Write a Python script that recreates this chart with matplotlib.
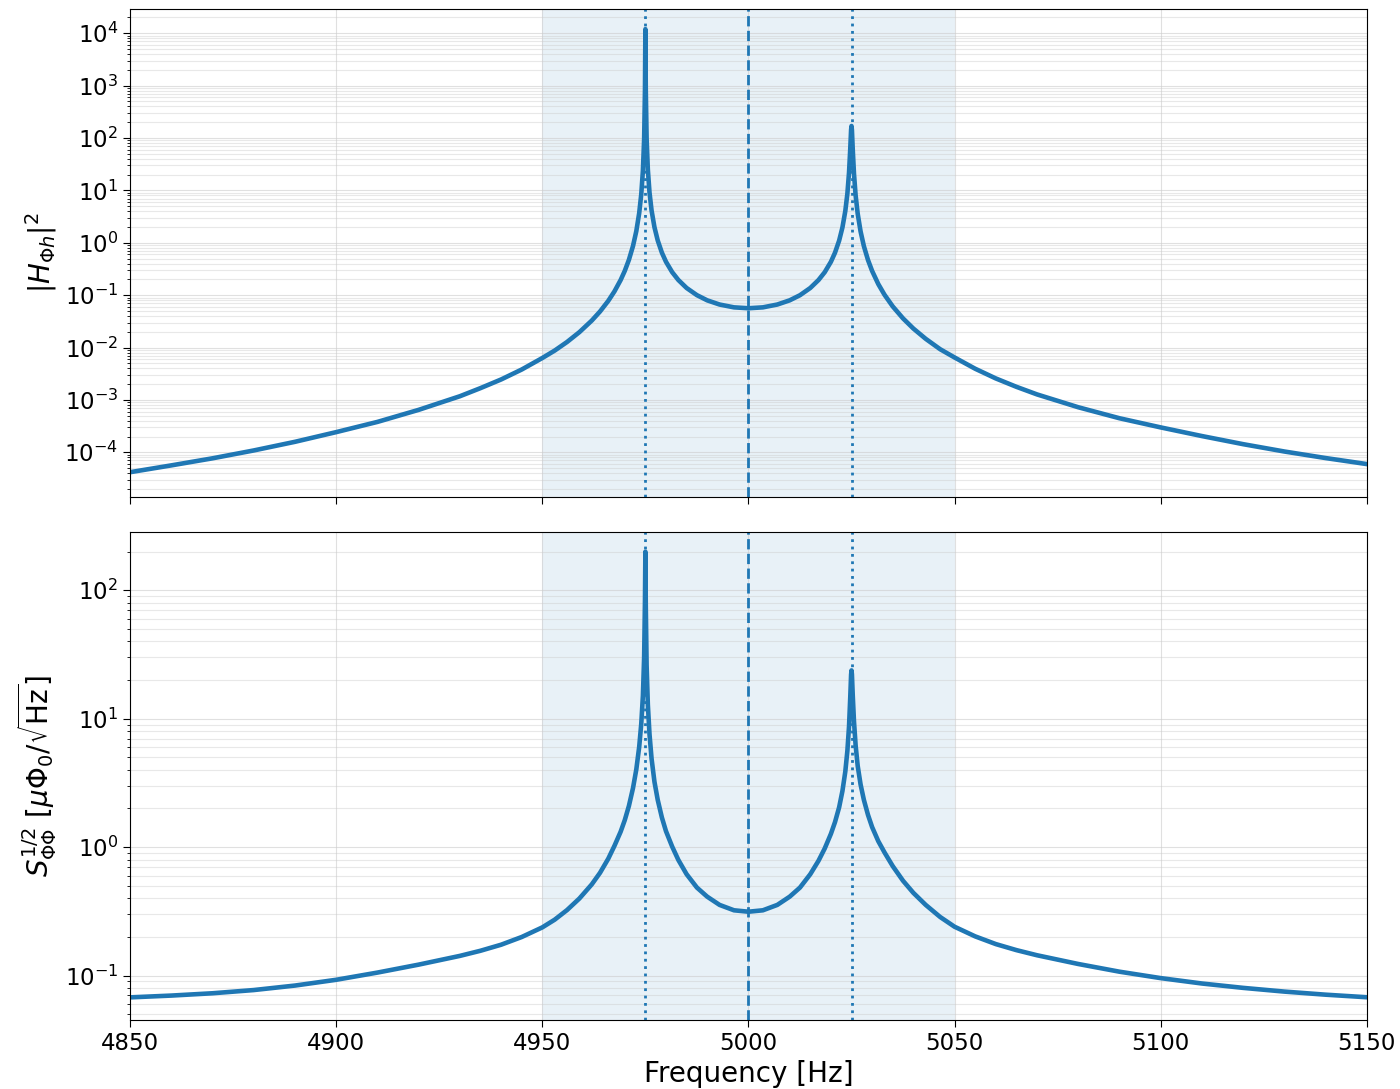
import numpy as np
import matplotlib
matplotlib.use("Agg")
import matplotlib.pyplot as plt

# frequency samples [Hz] (denser near the two resonances)
freq = [4850, 4860, 4870, 4880, 4890, 4900, 4910, 4920, 4930, 4935,
        4940, 4945, 4950, 4953, 4956, 4959, 4962, 4964, 4966, 4967.5,
        4969, 4970, 4971, 4972, 4972.8, 4973.5, 4974, 4974.4, 4974.7, 4974.9,
        4975, 4975.1, 4975.3, 4975.6, 4976, 4976.5, 4977.2, 4978, 4979, 4980,
        4981.5, 4983, 4985, 4987.5, 4990, 4993, 4996.5, 5000, 5003.5, 5007,
        5010, 5012.5, 5015, 5017, 5018.5, 5020, 5021, 5022, 5022.8, 5023.5,
        5024, 5024.4, 5024.7, 5024.9, 5025, 5025.1, 5025.3, 5025.6, 5026, 5026.5,
        5027.2, 5028, 5029, 5030, 5031.5, 5033, 5035, 5037.5, 5040, 5043,
        5046.5, 5050, 5055, 5060, 5065, 5070, 5080, 5090, 5100, 5110,
        5120, 5130, 5140, 5150]

# log10 |H_Phi h|^2
h2_log10 = [-4.38, -4.25, -4.115, -3.965, -3.80, -3.615, -3.42, -3.19, -2.93, -2.775,
            -2.61, -2.42, -2.20, -2.058, -1.894, -1.706, -1.485, -1.312, -1.109, -0.928,
            -0.711, -0.537, -0.327, -0.061, 0.222, 0.566, 0.926, 1.376, 1.981, 2.913,
            4.079, 2.916, 1.991, 1.397, 0.961, 0.618, 0.298, 0.043, -0.188, -0.363,
            -0.561, -0.711, -0.863, -1.000, -1.099, -1.179, -1.233, -1.250, -1.233, -1.179,
            -1.099, -1.001, -0.863, -0.711, -0.562, -0.364, -0.189, 0.041, 0.293, 0.608,
            0.939, 1.340, 1.798, 2.155, 2.230, 2.152, 1.787, 1.319, 0.905, 0.556,
            0.217, -0.064, -0.329, -0.538, -0.789, -0.992, -1.215, -1.444, -1.637, -1.834,
            -2.032, -2.19, -2.405, -2.59, -2.75, -2.895, -3.14, -3.35, -3.525, -3.69,
            -3.845, -3.985, -4.11, -4.225]

# log10 S_PhiPhi^(1/2) [uPhi0/sqrt(Hz)]
s_log10 = [-1.170, -1.156, -1.138, -1.113, -1.078, -1.033, -0.977, -0.915, -0.847, -0.807,
           -0.760, -0.700, -0.625, -0.565, -0.490, -0.400, -0.290, -0.200, -0.090, 0.010,
           0.120, 0.210, 0.320, 0.460, 0.605, 0.780, 0.960, 1.178, 1.480, 1.916,
           2.300, 1.878, 1.416, 1.109, 0.880, 0.689, 0.509, 0.367, 0.231, 0.124,
           0.004, -0.100, -0.211, -0.315, -0.386, -0.450, -0.492, -0.503, -0.492, -0.450,
           -0.386, -0.315, -0.211, -0.106, -0.011, 0.103, 0.195, 0.310, 0.437, 0.589,
           0.750, 0.940, 1.169, 1.343, 1.376, 1.346, 1.184, 0.979, 0.792, 0.633,
           0.488, 0.368, 0.251, 0.156, 0.046, -0.041, -0.148, -0.262, -0.356, -0.450,
           -0.544, -0.620, -0.695, -0.755, -0.802, -0.842, -0.910, -0.970, -1.020, -1.062,
           -1.096, -1.125, -1.149, -1.169]

f_modes = [4975, 5025]
f_center = 5000
band = (4950, 5050)
xticks = [4850, 4900, 4950, 5000, 5050, 5100, 5150]

color = "#1f77b4"
h2 = 10 ** np.array(h2_log10)
s = 10 ** np.array(s_log10)

fig = plt.figure(figsize=(14, 10.89), dpi=100)
ax1 = fig.add_axes([0.0929, 0.5439, 0.8834, 0.4478])
ax2 = fig.add_axes([0.0929, 0.0634, 0.8834, 0.4484], sharex=ax1)

for ax, y in [(ax1, h2), (ax2, s)]:
    ax.axvspan(band[0], band[1], color=color, alpha=0.1, lw=0)
    for fm in f_modes:
        ax.axvline(fm, color=color, ls=":", lw=2)
    ax.axvline(f_center, color=color, ls="--", lw=2)
    ax.plot(freq, y, color=color, lw=3.3, solid_joinstyle="round")
    ax.set_yscale("log")
    ax.grid(True, which="major", color="#cccccc", alpha=0.6, lw=0.8)
    ax.grid(True, which="minor", axis="y", color="#cccccc", alpha=0.45, lw=0.8)
    ax.tick_params(axis="both", which="major", labelsize=16.5, length=5)
    ax.set_xlim(4850, 5150)
    ax.set_xticks(xticks)

ax1.set_ylim(1.42e-5, 2.9e4)
ax2.set_ylim(0.0451, 286)
ax1.tick_params(axis="x", labelbottom=False)

ax1.set_ylabel(r"$|H_{\Phi h}|^2$", fontsize=20)
ax2.set_ylabel(r"$S_{\Phi\Phi}^{1/2}\ [\mu\Phi_0/\sqrt{\mathrm{Hz}}]$", fontsize=20)
ax2.set_xlabel("Frequency [Hz]", fontsize=20)

fig.savefig("out.png", dpi=100)
